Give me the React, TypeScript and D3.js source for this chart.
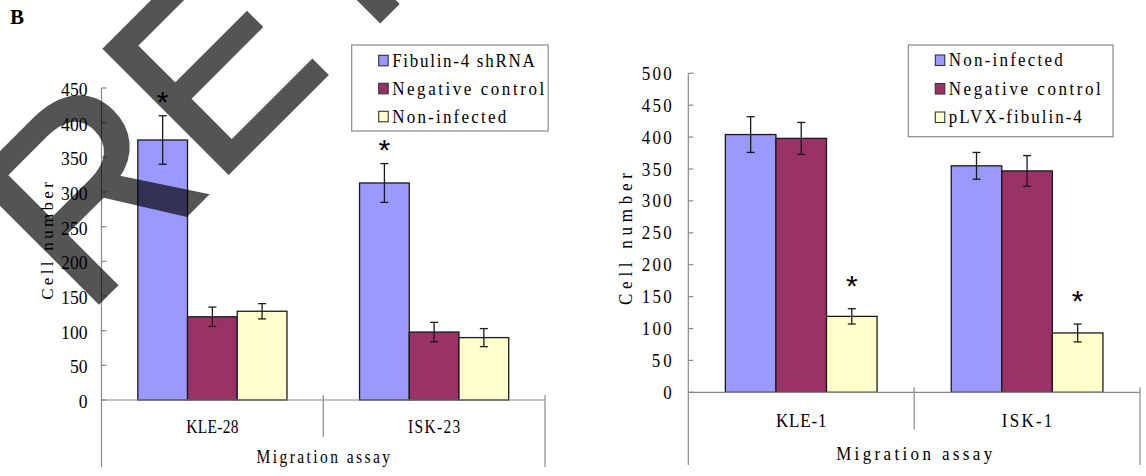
import React from "react";
import * as d3 from "d3";

// Excel-style palette used by both panels
const barColors = ["#9999FF", "#993366", "#FFFFCC"];

// panel B, left: knock-down
const leftCategories = ["KLE-28", "ISK-23"];
const leftSeries = ["Fibulin-4 shRNA", "Negative control", "Non-infected"];
const leftValues = [
  [375, 120, 128],
  [313, 98, 90],
];
const leftErrors = [
  [35, 14, 11],
  [28, 14, 13],
];
const leftStars = [
  [0, 0],
  [1, 0],
];
const leftTicks = [0, 50, 100, 150, 200, 250, 300, 350, 400, 450];

// panel B, right: over-expression
const rightCategories = ["KLE-1", "ISK-1"];
const rightSeries = ["Non-infected", "Negative control", "pLVX-fibulin-4"];
const rightValues = [
  [404, 398, 119],
  [355, 347, 93],
];
const rightErrors = [
  [28, 25, 12],
  [21, 24, 14],
];
const rightStars = [
  [0, 2],
  [1, 2],
];
const rightTicks = [0, 50, 100, 150, 200, 250, 300, 350, 400, 450, 500];

const yTitle = "Cell number";
const xTitle = "Migration assay";
const panelLetter = "B";

const SERIF = "'Liberation Serif', 'Times New Roman', serif";
const SANS = "'Liberation Sans', Arial, sans-serif";
const AXIS = "#8a8a8a";
const INK = "#1a1a1a";

// serif text stretched to the even pitch of the original (SimSun-like) font
const Txt = (props: {
  x: number;
  y: number;
  size: number;
  family?: string;
  sy?: number;
  rotate?: number;
  anchor?: string;
  pitch?: number;
  weight?: string;
  children: string | number;
}) => {
  const s = String(props.children);
  return (
    <text
      transform={`translate(${props.x},${props.y}) rotate(${props.rotate || 0}) scale(1,${props.sy || 1})`}
      textAnchor={props.anchor || "start"}
      fontFamily={props.family || SERIF}
      fontSize={props.size}
      fontWeight={props.weight || "normal"}
      textLength={props.pitch ? s.length * props.pitch : undefined}
      lengthAdjust={props.pitch ? "spacing" : undefined}
      fill="#000"
    >
      {s}
    </text>
  );
};

type Font = { size: number; sy: number; pitch?: number };

type PanelProps = {
  categories: string[];
  series: string[];
  values: number[][];
  errors: number[][];
  stars: number[][];
  ticks: number[];
  xLeft: number;
  xRight: number;
  yZero: number;
  yTop: number;
  groupPad: number;
  bottom: number;
  tickFont: Font & { dx: number; dy: number };
  catFont: Font & { y: number };
  titleFont: Font & { y: number };
  yTitleFont: Font & { x: number; y: number };
  legend: { x: number; y: number; w: number; h: number; row0: number; gap: number } & Font;
  starOffset: number;
};

const Panel = (p: PanelProps) => {
  const y = d3
    .scaleLinear()
    .domain([0, p.ticks[p.ticks.length - 1]])
    .range([p.yZero, p.yTop]);
  const x0 = d3.scaleBand<string>().domain(p.categories).range([p.xLeft, p.xRight]);
  const x1 = d3
    .scaleBand<string>()
    .domain(p.series)
    .range([0, x0.bandwidth()])
    .paddingOuter(p.groupPad);
  const cap = 4;
  const barX = (ci: number, si: number) =>
    (x0(p.categories[ci]) as number) + (x1(p.series[si]) as number);

  return (
    <g>
      {/* bars */}
      {p.categories.map((c, ci) =>
        p.series.map((s, si) => {
          const v = p.values[ci][si];
          return (
            <rect
              key={c + s}
              x={barX(ci, si)}
              y={y(v)}
              width={x1.bandwidth()}
              height={y(0) - y(v)}
              fill={barColors[si]}
              stroke={INK}
              strokeWidth={1.3}
            />
          );
        })
      )}
      {/* error bars */}
      {p.categories.map((c, ci) =>
        p.series.map((s, si) => {
          const cx = barX(ci, si) + x1.bandwidth() / 2;
          const v = p.values[ci][si];
          const e = p.errors[ci][si];
          return (
            <g key={"e" + c + s} stroke={INK} strokeWidth={1.3}>
              <line x1={cx} x2={cx} y1={y(v + e)} y2={y(v - e)} />
              <line x1={cx - cap} x2={cx + cap} y1={y(v + e)} y2={y(v + e)} />
              <line x1={cx - cap} x2={cx + cap} y1={y(v - e)} y2={y(v - e)} />
            </g>
          );
        })
      )}
      {/* significance marks */}
      {p.stars.map(([ci, si]) => {
        const cx = barX(ci, si) + x1.bandwidth() / 2;
        const top = y(p.values[ci][si] + p.errors[ci][si]);
        return (
          <Txt key={"s" + ci} x={cx} y={top - p.starOffset + 17} size={30} family={SANS} anchor="middle">
            *
          </Txt>
        );
      })}
      {/* axes */}
      <g stroke={AXIS} strokeWidth={1.2} fill="none">
        <line x1={p.xLeft} x2={p.xLeft} y1={p.yTop} y2={p.bottom} />
        <line x1={p.xLeft} x2={p.xRight} y1={p.yZero} y2={p.yZero} />
        <line x1={p.xRight} x2={p.xRight} y1={p.yZero - 5} y2={p.bottom} />
        {p.categories.slice(1).map((c) => (
          <line key={"d" + c} x1={x0(c)} x2={x0(c)} y1={p.yZero - 5} y2={p.yZero + 37} />
        ))}
        {p.ticks.map((t) => (
          <line key={"t" + t} x1={p.xLeft} x2={p.xLeft + 5} y1={y(t)} y2={y(t)} />
        ))}
      </g>
      {p.ticks.map((t) => (
        <Txt
          key={"l" + t}
          x={p.xLeft - p.tickFont.dx}
          y={y(t) + p.tickFont.dy}
          size={p.tickFont.size}
          sy={p.tickFont.sy}
          pitch={p.tickFont.pitch}
          anchor="end"
        >
          {t}
        </Txt>
      ))}
      {p.categories.map((c) => (
        <Txt
          key={"c" + c}
          x={(x0(c) as number) + x0.bandwidth() / 2}
          y={p.catFont.y}
          size={p.catFont.size}
          sy={p.catFont.sy}
          pitch={p.catFont.pitch}
          anchor="middle"
        >
          {c}
        </Txt>
      ))}
      <Txt
        x={(p.xLeft + p.xRight) / 2}
        y={p.titleFont.y}
        size={p.titleFont.size}
        sy={p.titleFont.sy}
        pitch={p.titleFont.pitch}
        anchor="middle"
      >
        {xTitle}
      </Txt>
      <Txt
        x={p.yTitleFont.x}
        y={p.yTitleFont.y}
        rotate={-90}
        size={p.yTitleFont.size}
        sy={p.yTitleFont.sy}
        pitch={p.yTitleFont.pitch}
        anchor="middle"
      >
        {yTitle}
      </Txt>
      {/* legend */}
      <rect x={p.legend.x} y={p.legend.y} width={p.legend.w} height={p.legend.h} fill="#fff" stroke={AXIS} strokeWidth={1.2} />
      {p.series.map((s, si) => {
        const cy = p.legend.row0 + si * p.legend.gap;
        return (
          <g key={"g" + s}>
            <rect x={p.legend.x + 27} y={cy - 5} width={9.5} height={10.5} fill={barColors[si]} stroke="#333" strokeWidth={1.1} />
            <Txt x={p.legend.x + 40.5} y={cy + 6.3} size={p.legend.size} sy={p.legend.sy} pitch={p.legend.pitch}>
              {s}
            </Txt>
          </g>
        );
      })}
    </g>
  );
};

const App = () => {
  return (
    <svg
      width={1146}
      height={476}
      viewBox="0 0 1146 476"
      style={{ position: "absolute", left: 0, top: 0, background: "#fff" }}
    >
      <rect width={1146} height={476} fill="#fff" />
      <Txt x={10} y={24} size={21} weight="bold">
        {panelLetter}
      </Txt>
      <Panel
        categories={leftCategories}
        series={leftSeries}
        values={leftValues}
        errors={leftErrors}
        stars={leftStars}
        ticks={leftTicks}
        xLeft={101.5}
        xRight={545}
        yZero={400}
        yTop={88}
        groupPad={0.73}
        bottom={467}
        tickFont={{ size: 17.6, sy: 1.12, dx: 14, dy: 8 }}
        catFont={{ size: 15.5, sy: 1.24, pitch: 8.7, y: 432.7 }}
        titleFont={{ size: 15.5, sy: 1.24, pitch: 8.9, y: 463 }}
        yTitleFont={{ size: 17, sy: 1.04, pitch: 10.7, x: 53, y: 241 }}
        legend={{ x: 351.7, y: 45, w: 196.5, h: 86, row0: 60.3, gap: 28, size: 17, sy: 1.13, pitch: 9.5 }}
        starOffset={21}
      />
      <Panel
        categories={rightCategories}
        series={rightSeries}
        values={rightValues}
        errors={rightErrors}
        stars={rightStars}
        ticks={rightTicks}
        xLeft={688.3}
        xRight={1140}
        yZero={392.3}
        yTop={73.3}
        groupPad={0.733}
        bottom={465}
        tickFont={{ size: 17, sy: 1.07, pitch: 10, dx: 16.6, dy: 6.5 }}
        catFont={{ size: 17, sy: 1.09, pitch: 10.1, y: 427.3 }}
        titleFont={{ size: 17, sy: 1.09, pitch: 10.4, y: 460 }}
        yTitleFont={{ size: 17, sy: 1.12, pitch: 12, x: 632, y: 239 }}
        legend={{ x: 908.3, y: 45, w: 204.7, h: 91.7, row0: 60, gap: 28.5, size: 17, sy: 1.13, pitch: 9.5 }}
        starOffset={30}
      />
      {/* retraction stamp across the left panel */}
      <g opacity={0.667}>
        <text
          transform="translate(84.2,316.8) rotate(-45)"
          fontFamily={SANS}
          fontSize={254}
          fill="#000"
          stroke="#000"
          strokeWidth={4}
          strokeLinejoin="miter"
        >
          RET
        </text>
      </g>
    </svg>
  );
};

export default App;
